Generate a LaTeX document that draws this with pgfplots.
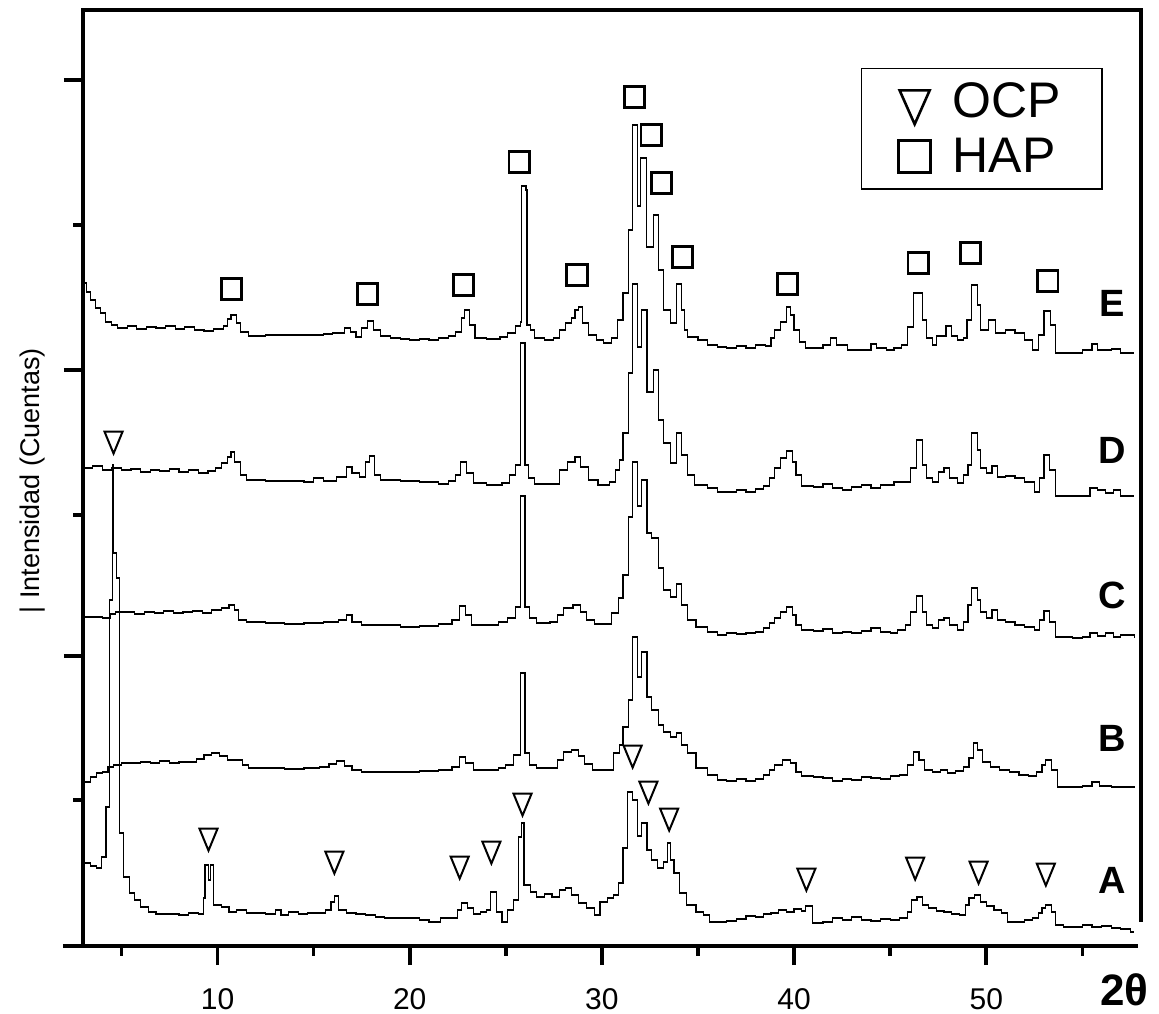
\documentclass[border=0pt]{standalone}
\usepackage{pgfplots}
\pgfplotsset{compat=1.18}
\usepackage{fontspec}
\setmainfont{Liberation Sans}

\begin{document}
\begin{tikzpicture}
\path[use as bounding box] (-41.5pt,-33.5pt) rectangle (538pt,473pt);
\begin{axis}[
  scale only axis, width=528.5pt, height=468pt,
  xmin=3, xmax=58, ymin=0, ymax=936,
  axis line style={draw=none},
  clip=false,
  xtick={10,20,30,40,50}, xticklabels={10,20,30,40,50},
  minor xtick={5,15,25,35,45,55},
  ytick={290,576,866}, minor ytick={146,431,721},
  yticklabels={},
  xtick pos=bottom, ytick pos=left,
  tick align=outside,
  major tick length=9.5pt, minor tick length=4.8pt,
  tick style={black, line width=1.8pt},
  xticklabel style={font=\fontsize{15}{15}\selectfont, anchor=north, yshift=-8pt},
  ylabel={| Intensidad (Cuentas)},
  ylabel style={at={(axis description cs:-0.0473,0.497)}, anchor=center, font=\fontsize{13.5}{13.5}\selectfont},
  legend style={at={(axis description cs:0.736,0.938)}, anchor=north west, draw=black, line width=0.7pt,
    font=\fontsize{25}{25}\selectfont, inner xsep=18.5pt, inner ysep=5pt, column sep=9pt, row sep=4.5pt},
  legend cell align=left,
  legend image code/.code={\path[draw=none,fill=none] (0pt,-8pt) rectangle (15pt,8pt); \draw[#1] plot coordinates {(7.5pt,0pt)};},
]
\addlegendimage{only marks, mark=triangle, mark size=8.66pt, mark options={yscale=-1.3, line width=1.3pt, solid}}
\addlegendentry{OCP}
\addlegendimage{only marks, mark=square, mark size=8pt, mark options={line width=1.5pt, solid}}
\addlegendentry{HAP}

% ---------- E ----------
\addplot[const plot, black, line width=0.6pt, forget plot] table {
x y
3.05 663
3.2 654
3.4 646
3.65 638
3.9 633
4.15 624
4.5 621
4.8 618
5.3 620
5.8 617
6.3 619
6.8 618
7.3 620
7.8 617
8.3 619
8.8 616
9.3 615
9.8 617
10.3 620
10.5 627
10.7 631
11.0 623
11.2 614
11.6 610
12.5 611
13.5 611
14.5 611
15.5 612
16.0 613
16.6 618
16.9 614
17.2 609
17.5 618
17.8 625
18.1 616
18.5 610
19.0 608
19.5 607
20.0 606
20.5 607
21.0 606
21.5 608
22.0 610
22.4 614
22.7 628
22.85 636
23.1 621
23.4 608
24.0 607
24.7 609
25.1 613
25.5 620
25.75 624
25.8 760
26.05 756
26.1 621
26.3 616
26.5 608
27.0 606
27.5 608
27.8 616
28.1 623
28.4 628
28.6 636
28.8 639
29.0 623
29.3 611
29.7 606
30.1 603
30.5 608
30.8 626
31.1 653
31.4 716
31.6 821
31.85 740
32.0 788
32.3 699
32.7 731
32.95 676
33.2 636
33.56 623
33.9 662
34.15 636
34.3 616
34.45 609
35.0 606
35.5 601
36.0 599
36.5 598
37.0 600
37.5 598
38.0 601
38.5 600
38.8 608
39.0 616
39.3 624
39.6 639
39.8 631
40.0 616
40.3 604
40.6 598
41.0 598
41.5 601
41.9 608
42.2 601
42.8 596
43.5 596
44.0 602
44.3 598
44.8 596
45.2 598
45.6 601
45.9 619
46.2 653
46.7 626
46.9 608
47.2 601
47.4 610
47.9 620
48.2 610
48.5 606
48.8 608
49.0 626
49.25 661
49.55 641
49.7 616
50.1 626
50.5 613
51.0 616
51.5 613
52.0 606
52.4 596
52.7 611
53.0 635
53.35 621
53.6 593
54.5 593
55.0 596
55.5 602
55.8 596
56.5 597
57.0 593
57.7 593
};

% ---------- D ----------
\addplot[const plot, black, line width=0.6pt, forget plot] table {
x y
3.1 478
3.5 480
4.0 476
4.5 478
5.0 476
5.5 477
6.0 474
6.5 476
7.0 475
7.5 477
8.0 474
8.5 476
9.0 473
9.5 475
9.9 478
10.2 483
10.5 489
10.7 494
10.9 484
11.2 471
11.5 466
12.5 465
13.5 465
14.5 464
15.0 468
15.5 465
16.2 469
16.7 479
17.0 473
17.4 469
17.7 484
17.9 490
18.15 471
18.5 466
19.5 465
20.5 464
21.5 462
22.0 465
22.4 471
22.65 484
22.95 473
23.3 463
24.0 461
24.8 463
25.2 471
25.5 481
25.75 603
26.0 481
26.2 468
26.5 462
27.5 462
27.8 476
28.2 484
28.6 489
28.9 479
29.3 466
29.8 461
30.4 464
30.7 476
30.9 486
31.1 513
31.4 573
31.6 662
31.85 599
32.05 636
32.35 554
32.7 576
32.95 526
33.2 503
33.55 483
33.9 513
34.15 491
34.45 471
34.8 461
35.5 458
36.0 454
36.5 454
37.0 456
37.5 454
38.0 457
38.4 460
38.7 468
39.0 478
39.3 488
39.6 495
39.9 484
40.1 471
40.4 460
41.0 459
41.5 462
42.0 458
42.5 456
43.0 459
43.5 461
44.0 458
44.5 461
45.2 464
45.8 464
46.05 478
46.35 506
46.7 481
46.9 468
47.2 464
47.5 474
47.8 478
48.1 468
48.5 463
48.8 471
49.05 481
49.25 513
49.55 496
49.7 478
50.0 473
50.3 480
50.6 469
51.0 470
51.5 468
52.0 464
52.5 454
52.75 468
53.0 491
53.3 476
53.6 450
54.5 450
55.0 450
55.4 458
55.8 456
56.2 453
56.6 456
57.0 450
57.7 450
};

% ---------- C ----------
\addplot[const plot, black, line width=0.6pt, forget plot] table {
x y
3.1 329
3.5 329
4.0 328
4.4 332
4.7 334
5.2 334
5.7 332
6.2 334
6.7 333
7.2 335
7.7 333
8.2 334
8.7 335
9.2 333
9.7 336
10.2 338
10.6 341
10.9 336
11.1 326
11.5 324
12.5 323
13.5 322
14.5 323
15.5 324
16.3 326
16.7 331
17.0 324
17.5 321
18.5 321
19.5 319
20.5 320
21.5 322
22.2 326
22.6 340
22.9 331
23.2 321
24.0 321
24.6 324
25.1 328
25.5 339
25.75 450
26.0 339
26.25 328
26.6 323
27.3 324
27.7 331
28.0 338
28.5 341
28.9 334
29.2 326
29.6 322
30.2 322
30.5 333
30.85 348
31.1 371
31.4 429
31.6 484
31.85 440
32.05 466
32.35 413
32.6 408
32.95 378
33.2 356
33.55 349
33.9 362
34.15 341
34.45 326
34.9 319
35.5 314
36.0 311
36.5 313
37.0 312
37.5 313
38.0 314
38.4 318
38.7 323
39.0 328
39.3 334
39.6 339
39.9 331
40.1 321
40.4 316
41.0 315
41.5 317
42.0 313
42.5 314
43.0 313
43.5 315
44.0 318
44.5 314
45.0 313
45.4 316
45.8 321
46.05 334
46.35 350
46.7 334
46.9 321
47.2 318
47.5 326
47.8 328
48.1 321
48.5 316
48.8 324
49.05 341
49.25 358
49.55 346
49.7 334
50.0 328
50.3 336
50.6 326
51.0 324
51.5 321
52.0 319
52.5 316
52.75 326
53.0 335
53.3 324
53.6 309
54.5 308
55.0 309
55.4 313
55.8 310
56.2 313
56.6 309
57.0 311
57.7 308
};

% ---------- B ----------
\addplot[const plot, black, line width=0.6pt, forget plot] table {
x y
3.1 164
3.4 169
3.7 173
4.0 174
4.3 179
4.6 181
5.0 183
5.5 183
6.0 184
6.5 183
7.0 185
7.5 183
8.0 184
8.5 184
8.9 187
9.3 191
9.7 193
10.1 190
10.5 186
11.0 186
11.3 181
11.6 178
12.5 178
13.5 177
14.5 178
15.3 179
15.8 182
16.2 185
16.6 180
17.0 176
17.5 174
18.5 174
19.5 174
20.5 175
21.5 176
22.2 179
22.6 189
22.9 183
23.3 176
24.0 176
24.6 178
25.0 181
25.4 191
25.75 273
26.0 193
26.25 181
26.6 178
27.3 178
27.7 186
28.0 194
28.4 196
28.8 190
29.1 182
29.5 176
30.2 176
30.6 193
30.9 201
31.1 219
31.4 246
31.6 309
31.85 269
32.05 294
32.35 249
32.6 236
32.95 221
33.2 214
33.55 209
33.9 213
34.15 201
34.45 193
34.9 178
35.5 171
36.0 166
36.5 165
37.0 167
37.5 165
38.0 167
38.4 171
38.7 176
39.0 181
39.4 186
39.8 183
40.1 174
40.4 170
41.0 169
41.5 168
42.0 165
42.5 167
43.0 166
43.5 169
44.0 168
44.5 167
45.0 170
45.5 171
45.9 181
46.2 194
46.5 186
46.8 176
47.2 174
47.6 176
48.0 173
48.4 175
48.8 179
49.1 188
49.35 203
49.55 196
49.8 184
50.2 179
50.7 176
51.2 174
51.7 171
52.2 170
52.6 174
52.9 181
53.1 186
53.4 176
53.7 159
54.5 159
55.0 160
55.5 164
55.9 160
56.5 159
57.0 159
57.7 158
};

% ---------- A ----------
\addplot[const plot, black, line width=0.6pt, forget plot] table {
x y
3.1 83
3.4 80
3.7 78
3.95 89
4.2 139
4.38 346
4.52 481
4.6 393
4.75 368
4.9 113
5.1 69
5.4 53
5.7 46
6.0 39
6.4 34
6.8 32
7.5 32
8.0 31
8.5 33
9.0 32
9.25 48
9.35 81
9.55 66
9.65 81
9.8 41
10.2 39
10.6 34
11.0 36
11.5 33
12.0 33
12.5 32
13.0 36
13.3 31
13.7 34
14.2 32
14.7 33
15.2 33
15.6 36
15.9 44
16.1 50
16.3 36
16.7 33
17.2 32
17.7 31
18.2 29
18.7 28
19.3 28
20.0 28
20.5 26
21.0 24
21.6 28
22.2 28
22.5 36
22.7 43
23.0 38
23.3 32
23.7 34
24.0 36
24.2 54
24.5 34
24.8 24
25.1 36
25.4 46
25.65 109
25.8 123
25.95 61
26.3 54
26.6 49
27.0 52
27.4 49
27.8 56
28.1 58
28.4 51
28.8 43
29.2 38
29.6 31
29.9 44
30.3 48
30.6 51
30.85 63
31.1 98
31.35 154
31.6 146
31.85 110
32.05 123
32.35 96
32.6 86
32.9 78
33.2 84
33.4 103
33.55 86
33.75 73
34.05 53
34.4 41
34.9 34
35.3 31
35.6 24
36.0 24
36.5 25
37.0 27
37.5 30
38.0 29
38.4 32
38.8 33
39.2 36
39.6 34
40.0 37
40.4 35
40.6 40
40.95 23
41.5 24
42.0 28
42.5 26
43.0 29
43.5 26
44.0 25
44.5 27
45.0 26
45.5 28
45.9 34
46.1 46
46.4 49
46.7 41
47.0 38
47.4 35
47.8 34
48.2 32
48.6 31
48.9 41
49.1 48
49.4 51
49.7 44
50.0 40
50.4 36
50.8 33
51.1 24
51.6 24
52.0 26
52.4 28
52.7 33
52.9 38
53.1 41
53.4 34
53.6 21
54.0 19
54.5 19
55.0 21
55.5 19
56.0 20
56.5 18
57.0 17
57.5 14
57.7 14
};

% HAP markers
\addplot[only marks, mark=square, mark size=5.1pt, mark options={line width=1.4pt, solid, black}, forget plot] coordinates {
(10.73,657) (17.8,652) (22.8,661) (25.7,784) (28.7,671) (31.7,849) (32.57,811)
(33.1,763) (34.2,689) (39.65,662) (46.46,683) (49.17,693) (53.2,665)
};
% OCP markers
\addplot[only marks, mark=triangle, mark size=5.2pt, mark options={yscale=-1.4, line width=1pt, solid, black}, forget plot] coordinates {
(4.59,507) (9.53,110) (16.08,87) (22.6,82) (24.25,97) (25.87,145) (31.6,193)
(32.42,157) (33.5,130) (40.64,70) (46.3,81) (49.6,77) (53.1,75)
};

% frame
\draw[line width=1.7pt] (rel axis cs:0,0) -- (rel axis cs:0,1) -- (rel axis cs:1.001,1) -- (rel axis cs:1.001,0.026);
\draw[line width=1.7pt] (rel axis cs:-0.019,0) -- (rel axis cs:0.998,0);

% curve labels
\node[font=\fontsize{19}{19}\selectfont\bfseries] at (axis cs:56.55,643) {E};
\node[font=\fontsize{19}{19}\selectfont\bfseries] at (axis cs:56.55,496) {D};
\node[font=\fontsize{19}{19}\selectfont\bfseries] at (axis cs:56.55,351) {C};
\node[font=\fontsize{19}{19}\selectfont\bfseries] at (axis cs:56.55,208) {B};
\node[font=\fontsize{19}{19}\selectfont\bfseries] at (axis cs:56.55,66) {A};
\node[font=\fontsize{22}{22}\selectfont\bfseries] at (axis description cs:0.985,-0.047) {2θ};
\end{axis}
\end{tikzpicture}
\end{document}
